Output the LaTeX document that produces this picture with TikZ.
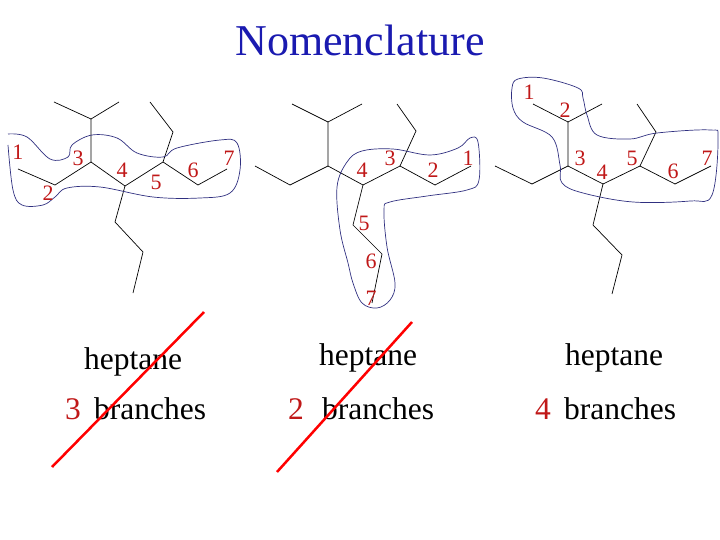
\documentclass[tikz,border=0pt]{standalone}
\usepackage{fontspec}
\setmainfont{Liberation Serif}
\definecolor{numred}{HTML}{C01818}
\definecolor{outl}{HTML}{303080}
\definecolor{ttl}{HTML}{1A1AB0}
\begin{document}
\begin{tikzpicture}[x=1pt,y=-1pt,
  bond/.style={black,line width=0.7pt},
  ring/.style={outl,line width=0.7pt},
  num/.style={text=numred,font=\fontsize{22}{22}\selectfont,inner sep=0pt},
  lbl/.style={font=\fontsize{31.5}{31.5}\selectfont,inner sep=0pt},
  cross/.style={red,line width=2.5pt}]
\useasboundingbox (0,0) rectangle (720,540);
\node[text=ttl,font=\fontsize{44}{44}\selectfont] (title) at (360,40) {Nomenclature};
% structure 1
\draw[bond] (54,102)--(91,119)--(119,102);
\draw[bond] (91,119)--(91,162)--(55,185)--(18,169);
\draw[bond] (91,162)--(125,186)--(163,162)--(173,132)--(150,102);
\draw[bond] (163,162)--(198,185)--(227,169);
\draw[bond] (125,186)--(115,222)--(143,252)--(133,293);
\draw[ring] plot[smooth,tension=0.6] coordinates{(8,145)(13,190)(22,205)(43,205)(55,197)(67,188)(100,187)(153,197)(200,198)(230,193)(240,170)(237,143)(220,140)(177,148)(163,157)(137,153)(117,138)(92,135)(72,145)(68,157)(50,159)(27,137)(8,134)};
\node[num] (a1) at (18,152) {1};
\node[num] (a2) at (48,193) {2};
\node[num] (a3) at (78,158) {3};
\node[num] (a4) at (122,170) {4};
\node[num] (a5) at (156,182) {5};
\node[num] (a6) at (193,170) {6};
\node[num] (a7) at (229,158) {7};
% structure 2
\draw[bond] (292,104)--(328,122)--(362,104);
\draw[bond] (328,122)--(328,166)--(290,185)--(255,166);
\draw[bond] (328,166)--(363,185)--(400,166)--(416,131)--(397,104);
\draw[bond] (400,166)--(435,185)--(471,166);
\draw[bond] (363,185)--(353,225)--(382,254)--(372,303);
\draw[ring] plot[smooth cycle,tension=0.6] coordinates{(362,151)(393,149)(430,155)(458,148)(470,138)(478,142)(479,180)(467,190)(427,196)(390,202)(384,210)(387,247)(395,283)(390,300)(377,308)(362,303)(353,283)(348,263)(340,230)(337,187)(347,162)};
\node[num] (b1) at (468,158) {1};
\node[num] (b2) at (433,170) {2};
\node[num] (b3) at (390,158) {3};
\node[num] (b4) at (362,170) {4};
\node[num] (b5) at (364,223) {5};
\node[num] (b6) at (371,261) {6};
\node[num] (b7) at (371,298) {7};
% structure 3
\draw[bond] (533,104)--(568,122)--(602,104);
\draw[bond] (568,122)--(568,166)--(532,184)--(495,166);
\draw[bond] (568,166)--(603,184)--(640,166)--(656,132)--(637,104);
\draw[bond] (640,166)--(675,184)--(711,166);
\draw[bond] (603,184)--(593,225)--(622,255)--(612,294);
\draw[ring] plot[smooth cycle,tension=0.6] coordinates{(518,79)(543,78)(578,88)(583,98)(587,115)(597,135)(630,139)(657,133)(710,130)(718,138)(712,195)(690,201)(633,202)(583,193)(562,183)(560,165)(552,137)(523,122)(513,108)(512,88)};
\node[num] (c1) at (529,92) {1};
\node[num] (c2) at (565,110) {2};
\node[num] (c3) at (580,158) {3};
\node[num] (c4) at (602,172) {4};
\node[num] (c5) at (632,158) {5};
\node[num] (c6) at (673,171) {6};
\node[num] (c7) at (707,158) {7};
% texts
\node[lbl] (h1) at (133,362) {heptane};
\node[lbl,text=numred] (n1) at (73,409) {3};
\node[lbl,anchor=west] (br1) at (94,409) {branches};
\node[lbl] (h2) at (368,358) {heptane};
\node[lbl,text=numred] (n2) at (296,409) {2};
\node[lbl,anchor=west] (br2) at (322,409) {branches};
\node[lbl] (h3) at (614,358) {heptane};
\node[lbl,text=numred] (n3) at (543,409) {4};
\node[lbl,anchor=west] (br3) at (564,409) {branches};
\coordinate (x1a) at (52,467); \coordinate (x1b) at (204,312);
\coordinate (x2a) at (277,472); \coordinate (x2b) at (412,322);
\draw[cross] (x1a)--(x1b);
\draw[cross] (x2a)--(x2b);
\end{tikzpicture}
\end{document}
